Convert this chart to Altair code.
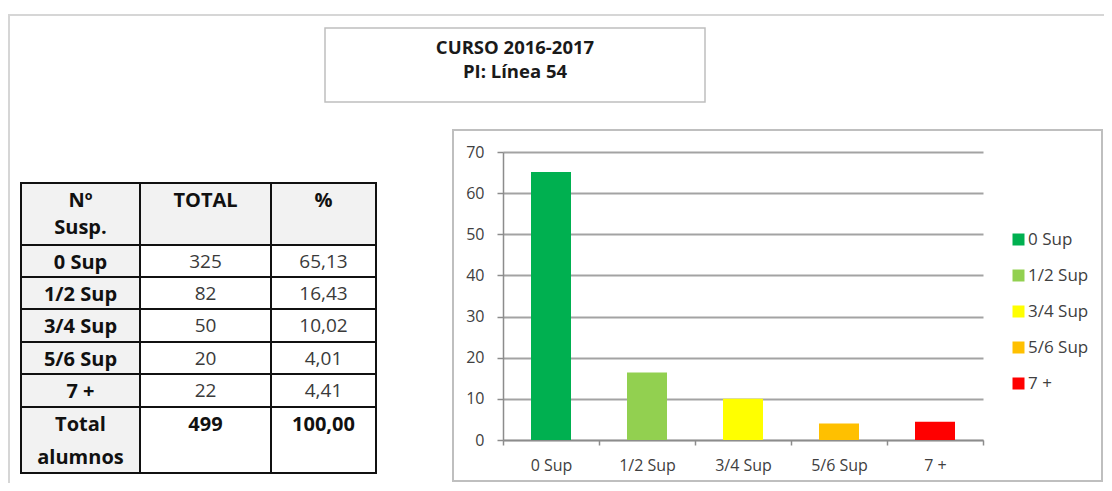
import altair as alt
import pandas as pd

# ---------------- data ----------------
categories = ["0 Sup", "1/2 Sup", "3/4 Sup", "5/6 Sup", "7 +"]
percent = [65.13, 16.43, 10.02, 4.01, 4.41]
bar_colors = ["#00b050", "#92d050", "#ffff00", "#ffc000", "#ff0000"]
y_ticks = [0, 10, 20, 30, 40, 50, 60, 70]

table_header = ["Nº\nSusp.", "TOTAL", "%"]
row_labels = ["0 Sup", "1/2 Sup", "3/4 Sup", "5/6 Sup", "7 +", "Total\nalumnos"]
totals = ["325", "82", "50", "20", "22", "499"]
percents_txt = ["65,13", "16,43", "10,02", "4,01", "4,41", "100,00"]

title_lines = ["CURSO 2016-2017", "PI: Línea 54"]

# ---------------- layout (pixels, relative to the bar plot origin) ----------------
FONT = "Open Sans"
W, H = 480, 288
PAD = {"left": 495, "top": 144, "right": 121, "bottom": 43}
col_px = [-482, -363, -232, -127]
row_px = [31, 93, 125, 157, 190, 222, 255, 321]
title_px = [-104, -80]

bar_df = pd.DataFrame({"cat": categories, "pct": percent})
title_df = pd.DataFrame({"line": title_lines, "i": list(range(len(title_lines)))})

cells = []
for c, h in enumerate(table_header):
    cells.append(dict(c=c, r=0, text=h, bold=True, fill="#f2f2f2"))
for i, lab in enumerate(row_labels):
    last = i == len(row_labels) - 1
    cells.append(dict(c=0, r=i + 1, text=lab, bold=True, fill="#f2f2f2"))
    cells.append(dict(c=1, r=i + 1, text=totals[i], bold=last, fill="#ffffff"))
    cells.append(dict(c=2, r=i + 1, text=percents_txt[i], bold=last, fill="#ffffff"))
cell_df = pd.DataFrame(cells)
cell_df["c1"] = cell_df["c"] + 1
cell_df["cm"] = cell_df["c"] + 0.5
cell_df["r1"] = cell_df["r"] + 1

# ---------------- bar chart ----------------
bars = alt.Chart(bar_df).mark_bar(size=40).encode(
    x=alt.X(
        "cat:N",
        sort=categories,
        scale=alt.Scale(domain=categories, paddingInner=0, paddingOuter=0),
        axis=alt.Axis(
            title=None, labelAngle=0, tickBand="extent", grid=False,
            domainColor="#8c8c8c", domainWidth=1.5, tickColor="#8c8c8c",
            tickWidth=1.5, tickSize=5, labelPadding=12, labelFont=FONT,
            labelFontSize=16, labelColor="#404040",
        ),
    ),
    y=alt.Y(
        "pct:Q",
        scale=alt.Scale(domain=[0, 70], nice=False),
        axis=alt.Axis(
            title=None, values=y_ticks, grid=True, gridColor="#a3a3a3",
            gridWidth=2, domainColor="#8c8c8c", domainWidth=1.5,
            tickColor="#8c8c8c", tickWidth=1.5, tickSize=6, labelPadding=13,
            labelFont=FONT, labelFontSize=16, labelColor="#404040",
        ),
    ),
    color=alt.Color(
        "cat:N",
        sort=categories,
        scale=alt.Scale(domain=categories, range=bar_colors),
        legend=alt.Legend(
            title=None, orient="none", legendX=507, legendY=79,
            symbolType="square", symbolSize=144, symbolStrokeWidth=0,
            labelFont=FONT, labelFontSize=17, labelColor="#404040",
            rowPadding=18, labelOffset=1, padding=0,
        ),
    ),
)

# ---------------- table ----------------
tx = alt.Scale(domain=[0, 1, 2, 3], range=col_px, nice=False, zero=False)
ty = alt.Scale(domain=list(range(len(row_px))), range=row_px, nice=False, zero=False)

table_base = alt.Chart(cell_df)
cell_rects = table_base.mark_rect(stroke="#111111", strokeWidth=2).encode(
    x=alt.X("c:Q", scale=tx, axis=None),
    x2="c1",
    y=alt.Y("r:Q", scale=ty, axis=None),
    y2="r1",
    fill=alt.Fill("fill:N", scale=None),
)

text_enc = dict(
    x=alt.X("cm:Q", scale=tx, axis=None),
    y=alt.Y("r:Q", scale=ty, axis=None),
    text="text:N",
)
head_text = table_base.transform_filter("datum.r == 0").mark_text(
    font=FONT, fontSize=20, fontWeight="bold", color="#111111",
    baseline="top", align="center", dy=8, lineBreak="\n", lineHeight=27,
).encode(**text_enc)
bold_text = table_base.transform_filter("datum.bold && datum.r > 0").mark_text(
    font=FONT, fontSize=20, fontWeight="bold", color="#111111",
    baseline="top", align="center", dy=8, lineBreak="\n", lineHeight=33,
).encode(**text_enc)
reg_text = table_base.transform_filter("!datum.bold").mark_text(
    font=FONT, fontSize=19, color="#3a3a3a",
    baseline="top", align="center", dy=8, lineBreak="\n", lineHeight=33,
).encode(**text_enc)
table = alt.layer(cell_rects, head_text, bold_text, reg_text)

# ---------------- title box ----------------
title_text = alt.Chart(title_df).mark_text(
    font=FONT, fontSize=18.5, fontWeight="bold", color="#1a1a1a",
    align="center", baseline="middle",
).encode(
    x=alt.value(12),
    y=alt.Y("i:Q", scale=alt.Scale(domain=[0, 1], range=title_px, nice=False, zero=False), axis=None),
    text="line:N",
)

# ---------------- frames (decoration) ----------------
one = pd.DataFrame({"k": [0]})
outer_frame = alt.Chart(one).mark_rect(
    fillOpacity=0, stroke="#d6d6d6", strokeWidth=2
).encode(x=alt.value(-494), x2=alt.value(800), y=alt.value(-137), y2=alt.value(500))
title_frame = alt.Chart(one).mark_rect(
    fillOpacity=0, stroke="#bfbfbf", strokeWidth=1.5
).encode(x=alt.value(-178), x2=alt.value(202), y=alt.value(-124), y2=alt.value(-50))
chart_frame = alt.Chart(one).mark_rect(
    fillOpacity=0, stroke="#bfbfbf", strokeWidth=2
).encode(x=alt.value(-50), x2=alt.value(599), y=alt.value(-22), y2=alt.value(329))

chart = alt.layer(
    outer_frame, title_frame, chart_frame, title_text, table, bars
).resolve_scale(
    x="independent", y="independent"
).properties(
    width=W,
    height=H,
    padding=PAD,
    autosize=alt.AutoSizeParams(type="none"),
    background="#ffffff",
).configure_view(stroke=None)

chart.save("out.html", embed_options={"renderer": "svg", "actions": False})
